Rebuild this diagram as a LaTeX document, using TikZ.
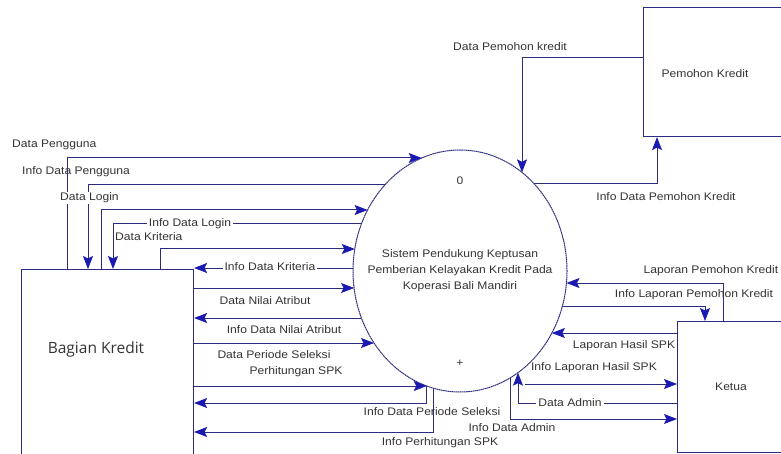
\documentclass[tikz,border=0pt]{standalone}
\usepackage{fontspec}
\setmainfont{Liberation Sans}
\newfontfamily\dfdfont[FakeStretch=1.1]{Liberation Sans}
\newfontfamily\entfont{Open Sans}
\usetikzlibrary{arrows.meta,shapes.geometric}
\definecolor{dfdline}{HTML}{2B2B80}
\definecolor{dfdarrow}{HTML}{1A1AB0}
\definecolor{dfdtext}{HTML}{333333}
\tikzset{
  entity/.style={draw=dfdline, line width=1.1pt, rectangle, anchor=north west, inner sep=0pt},
  process/.style={ellipse, draw=dfdline, line width=1pt, dash pattern=on 1.6pt off 0.5pt,
    inner sep=0pt, minimum width=214pt, minimum height=242pt},
  flow/.style={draw=dfdline, line width=1pt,
    -{Stealth[length=13pt,width=10pt,inset=2.5pt,color=dfdarrow,line width=0.8pt]}},
  lbl/.style={font=\dfdfont\fontsize{11}{12}\selectfont, text=dfdtext, inner sep=1pt},
  inlbl/.style={lbl, fill=white, inner sep=2pt},
  enttext/.style={font=\entfont\fontsize{15.5}{17}\selectfont, text=dfdtext}
}
\begin{document}
\begin{tikzpicture}[x=1pt,y=-1pt]
  \clip (0,0) rectangle (781,454);
  % process bubble and the border points on it
  \def\syscx{460} \def\syscy{271} \def\sysrx{107} \def\sysry{121}
  \def\lx#1{\syscx-\sysrx*sqrt(1-((#1-\syscy)/\sysry)^2)} % left side at height #1
  \def\rx#1{\syscx+\sysrx*sqrt(1-((#1-\syscy)/\sysry)^2)} % right side at height #1
  \def\by#1{\syscy+\sysry*sqrt(1-((#1-\syscx)/\sysrx)^2)} % bottom at column #1
  \def\ty#1{\syscy-\sysry*sqrt(1-((#1-\syscx)/\sysrx)^2)} % top at column #1

  \node[process] (sys) at (\syscx,\syscy) {};
  \node[lbl] (sysnum) at (460,181) {0};
  \node[lbl] (sysplus) at (460,363) {+};
  \node[lbl, align=center, font=\dfdfont\fontsize{11}{16}\selectfont] (sysname) at (460,271)
    {Sistem Pendukung Keptusan\\Pemberian Kelayakan Kredit Pada\\Koperasi Bali Mandiri};

  % external entities
  \node[entity, minimum width=172pt, minimum height=200pt] (kredit) at (21,269) {};
  \node[enttext] (kreditname) at (96,349) {Bagian Kredit};
  \node[entity, minimum width=160pt, minimum height=129pt] (pemohon) at (643,7) {};
  \node[lbl] (pemohonname) at (705,74) {Pemohon Kredit};
  \node[entity, minimum width=120pt, minimum height=131pt] (ketua) at (677,321) {};
  \node[lbl] (ketuaname) at (731,387) {Ketua};

  % Bagian Kredit, top side
  \draw[flow] (kredit.north -| 67,0) |- ({\lx{158}},158);
  \draw[flow] ({\lx{185}},185) -| (kredit.north -| 88,0);
  \draw[flow] (kredit.north -| 101,0) |- ({\lx{210}},210);
  \draw[flow] ({\lx{224}},224) -| (kredit.north -| 113,0);
  \draw[flow] (kredit.north -| 160,0) |- ({\lx{249}},249);
  % Bagian Kredit, right side
  \foreach \y in {288,343,386} {
    \draw[flow] (kredit.east |- 0,\y) -- ({\lx{\y}},\y); }
  \foreach \y in {268,318} {
    \draw[flow] ({\lx{\y}},\y) -- (kredit.east |- 0,\y); }
  \draw[flow] (426,{\by{426}}) |- (kredit.east |- 0,403);
  \draw[flow] (433,{\by{433}}) |- (kredit.east |- 0,432);

  % Pemohon Kredit
  \draw[flow] (pemohon.west |- 0,58) -| (522,{\ty{522}});
  \draw[flow] ({\rx{184}},184) -| (pemohon.south -| 657,0);

  % Ketua
  \draw[flow] (ketua.north -| 723,0) |- ({\rx{283}},283);
  \draw[flow] ({\rx{306}},306) -| (ketua.north -| 705,0);
  \draw[flow] (ketua.west |- 0,333) -- ({\rx{333}},333);
  \coordinate (hasilstart) at (525,384);
  \draw[flow] (hasilstart) -- (ketua.west |- 0,384);
  \draw[flow] (ketua.west |- 0,403) -| (518,{\by{518}});
  \draw[flow] (510,{\by{510}}) |- (ketua.west |- 0,419);

  % flow labels
  \node[lbl, anchor=west] (lpengguna) at (11,145) {Data Pengguna};
  \node[lbl, anchor=west] (linfopengguna) at (21,172) {Info Data Pengguna};
  \node[inlbl, anchor=west, inner sep=1pt] (llogin) at (59,198) {Data Login};
  \node[inlbl] (linfologin) at (190,224) {Info Data Login};
  \node[lbl, anchor=west] (lkriteria) at (114,237) {Data Kriteria};
  \node[inlbl] (linfokriteria) at (270,267) {Info Data Kriteria};
  \node[lbl] (lnilai) at (265,301) {Data Nilai Atribut};
  \node[lbl] (linfonilai) at (284,330) {Info Data Nilai Atribut};
  \node[lbl] (lperiode) at (274,355) {Data Periode Seleksi};
  \node[lbl] (lhitung) at (296,372) {Perhitungan SPK};
  \node[lbl] (linfoperiode) at (432,412) {Info Data Periode Seleksi};
  \node[lbl] (linfohitung) at (440,443) {Info Perhitungan SPK};
  \node[lbl] (lpemohon) at (510,47) {Data Pemohon kredit};
  \node[lbl] (linfopemohon) at (666,197) {Info Data Pemohon Kredit};
  \node[lbl] (llappemohon) at (711,271) {Laporan Pemohon Kredit};
  \node[lbl] (linfolappemohon) at (694,295) {Info Laporan Pemohon Kredit};
  \node[lbl] (lhasil) at (624,346) {Laporan Hasil SPK};
  \node[lbl] (linfohasil) at (594,368) {Info Laporan Hasil SPK};
  \node[inlbl] (ladmin) at (570,403) {Data Admin};
  \node[lbl] (linfoadmin) at (512,428) {Info Data Admin};
\end{tikzpicture}
\end{document}
